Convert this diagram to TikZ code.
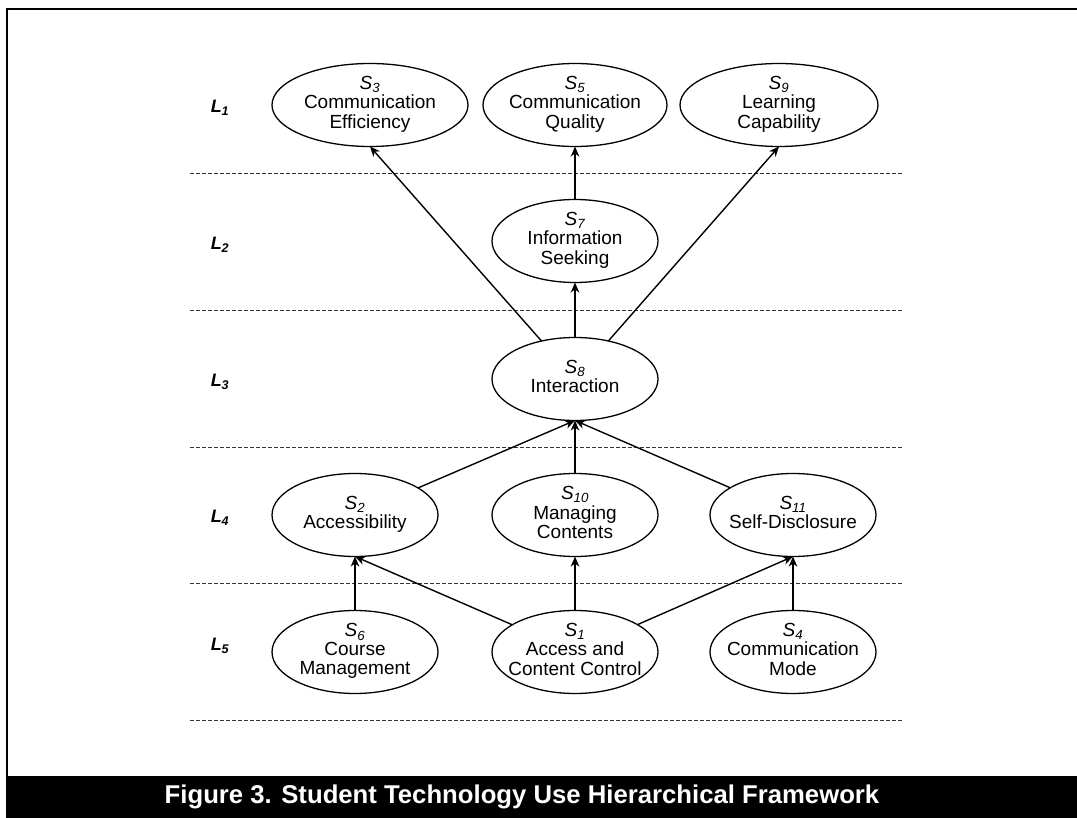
\documentclass[tikz,border=0pt]{standalone}
\usepackage{fontspec}
\setmainfont{Liberation Sans}
\usetikzlibrary{shapes.geometric,arrows.meta}
\newcommand{\eltext}[1]{\makebox[0pt][c]{\begin{tabular}{@{}c@{}}#1\end{tabular}}}
\newcommand{\sv}[1]{\textit{S\textsubscript{#1}}}
\begin{document}
\begin{tikzpicture}[x=1pt,y=-1pt,
  st/.style={draw, line width=1.3pt, ellipse, inner sep=0pt, outer sep=0pt,
    minimum width=166pt, minimum height=83pt,
    font=\fontsize{19}{19}\selectfont},
  conn/.style={line width=1.4pt, -{Stealth[length=10pt,width=8.5pt,inset=3pt]}},
  lvl/.style={font=\fontsize{18}{18}\selectfont\bfseries\itshape},
  sep/.style={line width=0.8pt, dash pattern=on 4pt off 2pt, black!80},
  frame/.style={line width=2.5pt, black}]
\useasboundingbox (0,0) rectangle (1077,818);
\clip (0,0) rectangle (1077,818);
% outer frame and caption bar
\draw[frame] (7,776) -- (7,9) -- (1090,9);
\fill[black] (5.75,776) rectangle (1090,830);
\node[text=white, font=\fontsize{25.7}{28}\selectfont\bfseries] (cap) at (522,797)
  {Figure 3. Student Technology Use Hierarchical Framework};
% level separators
\coordinate (d1a) at (190,173); \coordinate (d1b) at (903,173);
\coordinate (d2a) at (190,310); \coordinate (d2b) at (903,310);
\coordinate (d3a) at (190,447); \coordinate (d3b) at (903,447);
\coordinate (d4a) at (190,583); \coordinate (d4b) at (903,583);
\coordinate (d5a) at (190,720); \coordinate (d5b) at (903,720);
\draw[sep] (d1a) -- (d1b);
\draw[sep] (d2a) -- (d2b);
\draw[sep] (d3a) -- (d3b);
\draw[sep] (d4a) -- (d4b);
\draw[sep] (d5a) -- (d5b);
% level labels
\node[lvl] (l1) at (220,108) {L\textsubscript{1}};
\node[lvl] (l2) at (220,245) {L\textsubscript{2}};
\node[lvl] (l3) at (220,382) {L\textsubscript{3}};
\node[lvl] (l4) at (220,518) {L\textsubscript{4}};
\node[lvl] (l5) at (220,646) {L\textsubscript{5}};
% nodes
\node[st, minimum width=196pt] (s3) at (370,105) {\eltext{\sv{3}\\Communication\\Efficiency}};
\node[st, minimum width=184pt] (s5) at (575,105) {\eltext{\sv{5}\\Communication\\Quality}};
\node[st, minimum width=198pt] (s9) at (779,105) {\eltext{\sv{9}\\Learning\\Capability}};
\node[st] (s7) at (575,241) {\eltext{\sv{7}\\Information\\Seeking}};
\node[st] (s8) at (575,379) {\eltext{\sv{8}\\Interaction}};
\node[st] (s2) at (355,515) {\eltext{\sv{2}\\Accessibility}};
\node[st] (s10) at (575,515) {\eltext{\sv{10}\\Managing\\Contents}};
\node[st] (s11) at (793,515) {\eltext{\sv{11}\\Self-Disclosure}};
\node[st] (s6) at (355,652) {\eltext{\sv{6}\\Course\\Management}};
\node[st] (s1) at (575,652) {\eltext{\sv{1}\\Access and\\Content Control}};
\node[st] (s4) at (793,652) {\eltext{\sv{4}\\Communication\\Mode}};
% connectors
\draw[conn] (s8) -- (s3.south);
\draw[conn] (s8) -- (s7);
\draw[conn] (s8) -- (s9.south);
\draw[conn] (s7) -- (s5);
\draw[conn] (s2) -- (s8.south);
\draw[conn] (s10) -- (s8);
\draw[conn] (s11) -- (s8.south);
\draw[conn] (s6) -- (s2);
\draw[conn] (s1) -- (s2.south);
\draw[conn] (s1) -- (s10);
\draw[conn] (s1) -- (s11.south);
\draw[conn] (s4) -- (s11);
\end{tikzpicture}
\end{document}
